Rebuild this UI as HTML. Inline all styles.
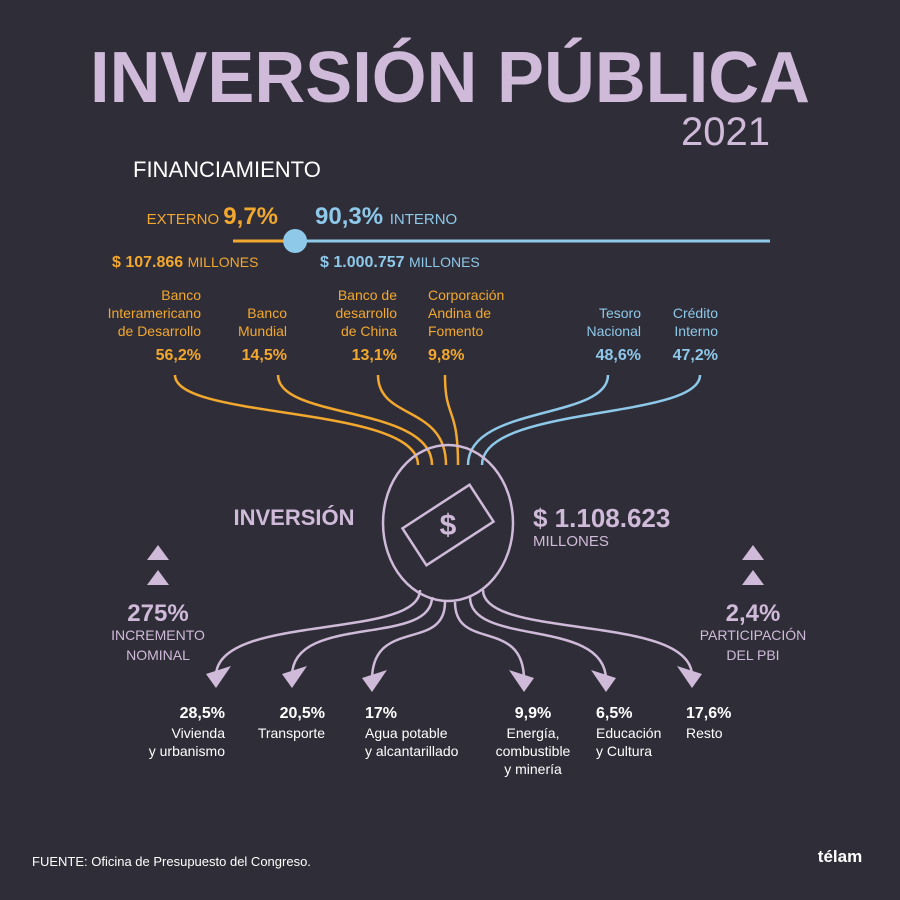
<!DOCTYPE html>
<html><head><meta charset="utf-8">
<style>
body{margin:0;background:#2f2d37;}
svg{display:block;font-family:"Liberation Sans",sans-serif;}
.o{fill:#f2a82f}.b{fill:#8ec9ea}.l{fill:#cfbbd9}.w{fill:#ffffff}
</style></head><body>
<svg id="c" width="900" height="900" viewBox="0 0 900 900">
<rect width="900" height="900" fill="#2f2d37"/>
<text x="450" y="102" text-anchor="middle" font-size="72" font-weight="bold" class="l" textLength="720" lengthAdjust="spacingAndGlyphs">INVERSIÓN PÚBLICA</text>
<text x="770" y="145" text-anchor="end" font-size="40" class="l">2021</text>
<text x="133" y="177" font-size="22" class="w">FINANCIAMIENTO</text>
<text x="278" y="224" text-anchor="end" font-size="15" class="o">EXTERNO <tspan font-size="24" font-weight="bold">9,7%</tspan></text>
<text x="315" y="224" font-size="24" font-weight="bold" class="b">90,3% <tspan font-size="15" font-weight="normal">INTERNO</tspan></text>
<g id="bar"></g>
<text x="112" y="267" font-size="16" font-weight="bold" class="o">$ 107.866 <tspan font-weight="normal" font-size="14">MILLONES</tspan></text>
<text x="320" y="267" font-size="16" font-weight="bold" class="b">$ 1.000.757 <tspan font-weight="normal" font-size="14">MILLONES</tspan></text>
<g id="src"></g>
<g id="flows" fill="none" stroke-width="2.5"></g>
<ellipse cx="448" cy="523" rx="65" ry="78" fill="none" stroke="#cfbbd9" stroke-width="2.5"/>
<g transform="translate(448,525) rotate(-33)">
<rect x="-40" y="-22" width="80" height="44" fill="none" stroke="#cfbbd9" stroke-width="2.5"/>
<text x="0" y="10" text-anchor="middle" font-size="30" font-weight="bold" class="l" transform="rotate(33)">$</text></g>
<text x="294" y="525" text-anchor="middle" font-size="22" font-weight="bold" class="l">INVERSIÓN</text>
<text x="533" y="527" font-size="26" font-weight="bold" class="l">$ 1.108.623</text>
<text x="533" y="546" font-size="15" class="l">MILLONES</text>
<g class="l"><polygon points="158,545 147,560 169,560"/><polygon points="158,570 147,585 169,585"/></g>
<text x="158" y="621" text-anchor="middle" font-size="24" font-weight="bold" class="l">275%</text>
<text x="158" y="640" text-anchor="middle" font-size="14" class="l">INCREMENTO</text>
<text x="158" y="660" text-anchor="middle" font-size="14" class="l">NOMINAL</text>
<g class="l"><polygon points="753,545 742,560 764,560"/><polygon points="753,570 742,585 764,585"/></g>
<text x="753" y="621" text-anchor="middle" font-size="24" font-weight="bold" class="l">2,4%</text>
<text x="753" y="640" text-anchor="middle" font-size="14" class="l">PARTICIPACIÓN</text>
<text x="753" y="660" text-anchor="middle" font-size="14" class="l">DEL PBI</text>
<g id="sec"></g>
<text x="32" y="866" font-size="13" class="w">FUENTE:  Oficina de Presupuesto del Congreso.</text>
<text x="840" y="862" text-anchor="middle" font-size="17" font-weight="bold" class="w">télam</text>
</svg>
<script>
const externalShare=9.7, internalShare=90.3;
const srcNames=[["Banco","Interamericano","de Desarrollo"],["Banco","Mundial"],["Banco de","desarrollo","de China"],["Corporación","Andina de","Fomento"],["Tesoro","Nacional"],["Crédito","Interno"]];
const srcValues=["56,2%","14,5%","13,1%","9,8%","48,6%","47,2%"];
const srcType=["o","o","o","o","b","b"];
const secValues=["28,5%","20,5%","17%","9,9%","6,5%","17,6%"];
const secNames=[["Vivienda","y urbanismo"],["Transporte"],["Agua potable","y alcantarillado"],["Energía,","combustible","y minería"],["Educación","y Cultura"],["Resto"]];
const NS="http://www.w3.org/2000/svg";
function mk(t,a,p){const e=document.createElementNS(NS,t);for(const k in a)e.setAttribute(k,a[k]);p.appendChild(e);return e;}
const bx0=233,bx1=770,bar=document.getElementById('bar');
const xs=v=>bx0+(bx1-bx0)*v/(externalShare+internalShare);
const sp=xs(externalShare)+10;
let e=mk('line',{x1:bx0,y1:241,x2:sp,y2:241,stroke:'#f2a82f','stroke-width':3},bar);


e=mk('line',{x1:sp,y1:241,x2:bx1,y2:241,stroke:'#8ec9ea','stroke-width':3},bar);


e=mk('circle',{cx:sp,cy:241,r:12,fill:'#8ec9ea'},bar);


const srcX=[201,287,397,428,641,718];
const srcAnchor=["end","end","end","start","end","end"];
const srcLineX=[175,278,378,445,608,700];
const srcEndX=[418,432,446,458,468,482];
const src=document.getElementById('src'),flows=document.getElementById('flows');
srcNames.forEach((n,i)=>{
  const off=3-n.length;
  n.forEach((s,j)=>{const t=mk('text',{x:srcX[i],y:300+(off+j)*18,'text-anchor':srcAnchor[i],'font-size':14,class:srcType[i]},src);t.textContent=s;
    
    });
  const v=mk('text',{x:srcX[i],y:360,'text-anchor':srcAnchor[i],'font-size':16,'font-weight':'bold',class:srcType[i]},src);v.textContent=srcValues[i];
  
  
  const x0=srcLineX[i],x1=srcEndX[i];
  const p=mk('path',{d:`M${x0},375 C${x0},420 ${x1},405 ${x1},465`,stroke:srcType[i]=='o'?'#f2a82f':'#8ec9ea'},flows);
  
  
});
const secStart=[[420,590],[432,597],[445,602],[455,602],[470,597],[483,590]];
const secTip=[[216,688],[292,688],[372,692],[524,692],[606,692],[692,688]];
const secX=[225,325,365,533,596,686];
const secAnchor=["end","end","start","middle","start","start"];
const sec=document.getElementById('sec');
secValues.forEach((v,i)=>{
  const [sx,sy]=secStart[i],[tx,ty]=secTip[i];
  const p=mk('path',{d:`M${sx},${sy} C${sx},${sy+50} ${tx},${ty-75} ${tx},${ty-12}`,stroke:'#cfbbd9'},flows);
  
  
  const dx=tx-sx>0?1:-1;
  const a=mk('polygon',{points:`${tx},${ty} ${tx-15*dx},${ty-22} ${tx+10*dx},${ty-14}`,class:'l'},sec);
  
  
  const t=mk('text',{x:secX[i],y:718,'text-anchor':secAnchor[i],'font-size':16,'font-weight':'bold',class:'w'},sec);t.textContent=v;
  
  
  secNames[i].forEach((s,j)=>{const u=mk('text',{x:secX[i],y:738+j*18,'text-anchor':secAnchor[i],'font-size':14,class:'w'},sec);u.textContent=s;
    
    });
});
</script>
</body></html>
